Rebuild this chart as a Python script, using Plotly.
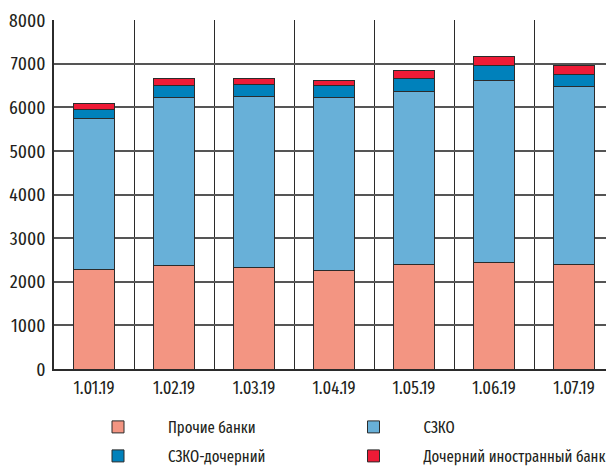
import plotly.graph_objects as go

# Dates (first day of month) and stacked components
dates = ["1.01.19", "1.02.19", "1.03.19", "1.04.19", "1.05.19", "1.06.19", "1.07.19"]
prochie = [2270, 2370, 2320, 2260, 2390, 2430, 2390]
szko = [3470, 3860, 3920, 3970, 3960, 4190, 4090]
szko_doch = [200, 260, 290, 270, 300, 330, 270]
doch_inostr = [150, 160, 130, 120, 200, 220, 210]

series = [
    ("Прочие банки", prochie, "#F39582"),
    ("СЗКО", szko, "#68B0D8"),
    ("СЗКО-дочерний", szko_doch, "#0081BB"),
    ("Дочерний иностранный банк", doch_inostr, "#EE1B36"),
]

FONT = ("Fira Sans Extra Condensed, Roboto Condensed, PT Sans Narrow, "
        "DejaVu Sans Condensed, Liberation Sans, sans-serif")
idx = list(range(len(dates)))

# one legend box per entry: two columns x two rows
legend_ids = ["legend", "legend2", "legend3", "legend4"]
legend_pos = [(68, 410), (323.5, 410), (68, 439), (323.5, 439)]

fig = go.Figure()
for (name, vals, color), leg in zip(series, legend_ids):
    fig.add_trace(go.Bar(
        x=idx, y=vals, name=name, legend=leg,
        marker=dict(color=color, line=dict(color="#2b2b2b", width=1)),
    ))

legend_layout = {}
for leg, (px, py) in zip(legend_ids, legend_pos):
    legend_layout[leg] = dict(
        xref="container", yref="container",
        x=px / 606, y=1 - py / 467,
        xanchor="left", yanchor="top",
        itemwidth=90,
        font=dict(size=16, family=FONT),
        itemclick=False, itemdoubleclick=False,
    )

fig.update_layout(
    barmode="stack",
    bargap=0.48,
    width=606, height=467,
    margin=dict(l=54, r=0, t=20, b=98, autoexpand=False),
    paper_bgcolor="white", plot_bgcolor="white",
    font=dict(family=FONT, color="#231F20", size=18),
    showlegend=True,
    **legend_layout,
    xaxis=dict(
        range=[-0.5, 6.4],
        tickmode="array", tickvals=idx, ticktext=dates,
        tickangle=0,
        showgrid=False, zeroline=False,
        showline=True, linecolor="#2b2b2b", linewidth=1.5,
        ticks="", ticklabelstandoff=2,
        tickfont=dict(size=18),
        minor=dict(tick0=0.5, dtick=1, showgrid=True,
                   gridcolor="#2b2b2b", gridwidth=1, ticks=""),
    ),
    yaxis=dict(
        range=[0, 8000], dtick=1000,
        showgrid=True, gridcolor="#555555", gridwidth=1.5,
        zeroline=False,
        showline=True, linecolor="#2b2b2b", linewidth=1.5,
        ticks="", ticklabelstandoff=3,
        tickfont=dict(size=19),
    ),
)

fig.write_html("out.html")
